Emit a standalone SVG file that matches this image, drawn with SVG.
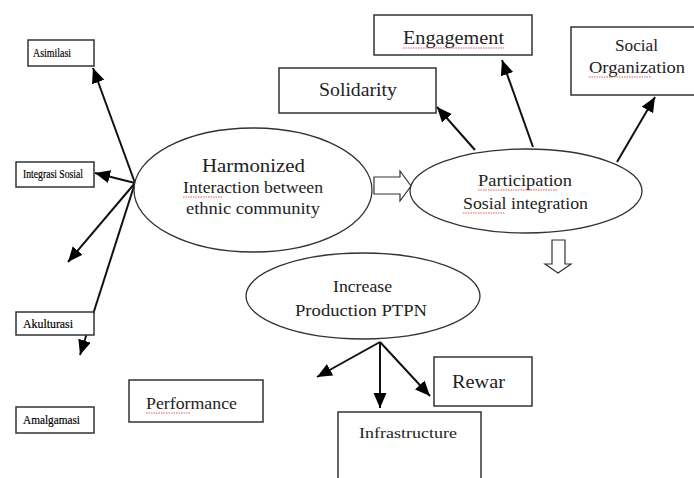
<svg xmlns="http://www.w3.org/2000/svg" width="694" height="478" viewBox="0 0 694 478">
<defs>
<marker id="ah" markerUnits="userSpaceOnUse" markerWidth="18" markerHeight="14" refX="15" refY="6.5" orient="auto">
<path d="M0,0 L15,6.5 L0,13 Z" fill="#000"/>
</marker>
<style>
.box{fill:#fff;stroke:#333;stroke-width:1.5}
.ell{fill:#fff;stroke:#333;stroke-width:1.3}
.ln{stroke:#111;stroke-width:2;fill:none;marker-end:url(#ah)}
.hol{fill:#fff;stroke:#333;stroke-width:1.2}
.t{font-family:"Liberation Serif","Times New Roman",serif;fill:#222;text-anchor:middle}
.s{font-family:"Liberation Serif","Times New Roman",serif;fill:#000;font-size:13px;stroke:#000;stroke-width:0.2}
.sq{stroke:#e03030;stroke-width:0.8;fill:none;stroke-dasharray:1.5 1}
</style>
</defs>
<rect width="694" height="478" fill="#fff"/>

<g id="connectors">
<line class="ln" x1="135" y1="183" x2="93" y2="68"/>
<line class="ln" x1="135" y1="183" x2="95" y2="173"/>
<line class="ln" x1="135" y1="183" x2="68" y2="262"/>
<line class="ln" x1="135" y1="183" x2="80" y2="355"/>
<line class="ln" x1="475" y1="150" x2="437" y2="107"/>
<line class="ln" x1="533" y1="147" x2="502" y2="60"/>
<line class="ln" x1="617" y1="162" x2="655" y2="97"/>
<line class="ln" x1="380" y1="342" x2="317" y2="377"/>
<line class="ln" x1="380" y1="342" x2="380" y2="408"/>
<line class="ln" x1="380" y1="342" x2="430" y2="396"/>
<path class="hol" d="M374,177 L400,177 L400,171 L411,186 L400,201 L400,194 L374,194 Z"/>
<path class="hol" d="M552,240 L565,240 L565,264 L571,264 L558,273 L545,264 L552,264 Z"/>
</g>

<g id="asimilasi"><rect class="box" x="28" y="40" width="66" height="26"/><text class="s" x="33" y="57" textLength="38" lengthAdjust="spacingAndGlyphs">Asimilasi</text></g>
<g id="integrasi"><rect class="box" x="16" y="162" width="78" height="25"/><text class="s" x="23" y="178" textLength="60" lengthAdjust="spacingAndGlyphs">Integrasi Sosial</text></g>
<g id="akulturasi"><rect class="box" x="16" y="312" width="78" height="23"/><text class="s" x="23" y="328" textLength="50" lengthAdjust="spacingAndGlyphs">Akulturasi</text></g>
<g id="amalgamasi"><rect class="box" x="16" y="407" width="78" height="26"/><text class="s" x="23" y="424" textLength="57" lengthAdjust="spacingAndGlyphs">Amalgamasi</text></g>

<g id="harmonized">
<ellipse class="ell" cx="253" cy="190" rx="119" ry="62"/>
<text class="t" x="253.5" y="172" font-size="19" textLength="103" lengthAdjust="spacingAndGlyphs">Harmonized</text>
<text class="t" x="253" y="193" font-size="16" textLength="140" lengthAdjust="spacingAndGlyphs">Interaction between</text>
<text class="t" x="253" y="214" font-size="16" textLength="134" lengthAdjust="spacingAndGlyphs">ethnic community</text>
<path class="sq" d="M183,197 L222,197"/>
</g>

<g id="participation">
<ellipse class="ell" cx="526" cy="191" rx="116" ry="42"/>
<text class="t" x="525" y="186" font-size="16" textLength="94" lengthAdjust="spacingAndGlyphs">Participation</text>
<text class="t" x="525.5" y="209" font-size="16" textLength="125" lengthAdjust="spacingAndGlyphs">Sosial integration</text>
<path class="sq" d="M478,190 L557,190 M463,213 L505,213"/>
</g>

<g id="solidarity"><rect class="box" x="279" y="68" width="157" height="45"/><text class="t" x="358" y="96" font-size="18" textLength="78" lengthAdjust="spacingAndGlyphs">Solidarity</text></g>
<g id="engagement"><rect class="box" x="374" y="15" width="158" height="40"/><text class="t" x="453.5" y="44" font-size="18" textLength="101" lengthAdjust="spacingAndGlyphs">Engagement</text><path class="sq" d="M403,48 L504,48"/></g>
<g id="social-org"><rect class="box" x="571" y="27" width="124" height="68"/><text class="t" x="636.5" y="51" font-size="16" textLength="43" lengthAdjust="spacingAndGlyphs">Social</text><text class="t" x="637" y="73" font-size="16" textLength="96" lengthAdjust="spacingAndGlyphs">Organization</text><path class="sq" d="M589,77 L652,77"/></g>

<g id="increase">
<ellipse class="ell" cx="363" cy="296" rx="117" ry="43"/>
<text class="t" x="362.5" y="292" font-size="16" textLength="59" lengthAdjust="spacingAndGlyphs">Increase</text>
<text class="t" x="361" y="316" font-size="17" textLength="132" lengthAdjust="spacingAndGlyphs">Production PTPN</text>
</g>

<g id="performance"><rect class="box" x="129" y="380" width="134" height="42"/><text class="t" x="191.5" y="409" font-size="16" textLength="91" lengthAdjust="spacingAndGlyphs">Performance</text><path class="sq" d="M146,413 L190,413"/></g>
<g id="rewar"><rect class="box" x="434" y="357" width="98" height="49"/><text class="t" x="478.5" y="388" font-size="19" textLength="53" lengthAdjust="spacingAndGlyphs">Rewar</text></g>
<g id="infrastructure"><rect class="box" x="338" y="412" width="143" height="80"/><text class="t" x="408" y="438" font-size="15" textLength="98" lengthAdjust="spacingAndGlyphs">Infrastructure</text></g>
</svg>
